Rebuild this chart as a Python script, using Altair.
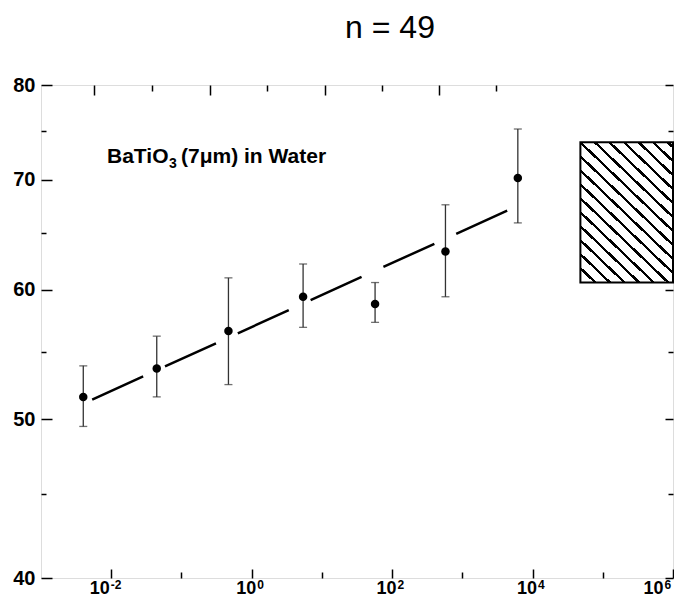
import altair as alt
import pandas as pd

# ---- data ----
x_vals = [0.0040, 0.0445, 0.467, 5.4, 57.2, 575, 6170]
y_vals = [51.6, 53.7, 56.6, 59.4, 58.8, 63.3, 70.2]
y_hi = [53.9, 56.2, 61.0, 62.2, 60.6, 67.6, 75.2]
y_lo = [49.5, 51.6, 52.5, 56.9, 57.3, 59.4, 65.9]

fit_x = [0.00536, 4880]
fit_y = [51.4, 67.2]

box_x = [48000, 1000000]
box_y = [60.6, 73.8]

x_major = [0.01, 1, 100, 10000, 1000000]
x_exponents = ["-2", "0", "2", "4", "6"]
x_minor = [0.1, 10, 1000, 100000]
x_top_major = [0.00566, 0.251, 11.1, 461]
x_top_minor = [0.0377, 1.667, 71.6, 3062]
y_major = [40, 50, 60, 70, 80]
y_minor = [45, 55, 65, 75]

title_text = "n = 49"
label_parts = ["BaTiO", "3", "(7\u03bcm) in Water"]

W, H = 632, 493

pts = pd.DataFrame({"x": x_vals, "y": y_vals, "hi": y_hi, "lo": y_lo})
fit = pd.DataFrame({"x": fit_x, "y": fit_y})
box = pd.DataFrame({"x": [box_x[0]], "x2": [box_x[1]], "y": [box_y[0]], "y2": [box_y[1]]})

xs = alt.Scale(type="log", domain=[1e-3, 1e6], nice=False)
ys = alt.Scale(type="log", domain=[40, 80], nice=False)

FONT = "Liberation Sans"


def tick_axis(orient, offset, values, majors, big, small):
    test = "indexof(" + str([float(v) for v in majors]) + ", datum.value) >= 0"
    return alt.Axis(orient=orient, offset=offset, values=values, labels=False,
                    domain=False, grid=False, title=None, tickColor="black",
                    tickWidth=1.5,
                    tickSize={"condition": {"test": test, "value": big}, "value": small})


def offset_cond(first, last, other):
    return {"condition": [{"test": "datum.value < 0.1", "value": first},
                          {"test": "datum.value > 100000", "value": last}],
            "value": other}


exp_expr = ("datum.value < 0.1 ? '%s' : datum.value < 10 ? '%s' : datum.value < 1000 ? '%s' : "
            "datum.value < 100000 ? '%s' : '%s'") % tuple(x_exponents)

# "10" part of the x labels
x_base_axis = alt.Axis(orient="bottom", values=x_major, labelExpr="'10'", ticks=False,
                       domain=False, grid=False, title=None, labelPadding=1,
                       labelAlign="right", labelOffset=offset_cond(-2, -10, 4),
                       labelFont=FONT, labelFontWeight="bold", labelFontSize=18,
                       labelColor="black")
# exponent part of the x labels
x_exp_axis = alt.Axis(orient="bottom", values=x_major, labelExpr=exp_expr, ticks=False,
                      domain=False, grid=False, title=None, labelPadding=1,
                      labelAlign="left", labelOffset=offset_cond(-1, -9, 5),
                      labelFont=FONT, labelFontWeight="bold", labelFontSize=12,
                      labelColor="black")
y_label_axis = alt.Axis(orient="left", values=y_major, ticks=False, domain=False, grid=False,
                        title=None, labelPadding=6, labelFont=FONT, labelFontWeight="bold",
                        labelFontSize=20, labelColor="black")

# points (carry the labelled axes)
points = alt.Chart(pts).mark_circle(size=72, color="black", opacity=1).encode(
    x=alt.X("x:Q", scale=xs, axis=x_base_axis),
    y=alt.Y("y:Q", scale=ys, axis=y_label_axis),
)

# error bars (carry inward ticks on bottom and left)
bars = alt.Chart(pts).mark_rule(color="#333333", strokeWidth=1.3).encode(
    x=alt.X("x:Q", scale=xs,
            axis=tick_axis("top", -H, x_major + x_minor, x_major, 9, 6)),
    y=alt.Y("lo:Q", scale=ys,
            axis=tick_axis("right", -W, y_major + y_minor, y_major, 11, 5)),
    y2="hi:Q",
)

# caps (carry inward ticks on top and right)
caps = alt.Chart(pts).transform_fold(["hi", "lo"], as_=["k", "cap"]).mark_tick(
    color="#333333", thickness=1.3, size=8, orient="horizontal").encode(
    x=alt.X("x:Q", scale=xs,
            axis=tick_axis("bottom", -H, x_top_major + x_top_minor, x_top_major, 10, 6)),
    y=alt.Y("cap:Q", scale=ys,
            axis=tick_axis("left", -W, y_major + y_minor, y_major, 8, 5)),
)

# dashed fit line (carries the exponent labels)
fit_line = alt.Chart(fit).mark_line(color="black", strokeWidth=2.5, strokeDash=[56, 24],
                                     strokeCap="butt").encode(
    x=alt.X("x:Q", scale=xs, axis=x_exp_axis),
    y=alt.Y("y:Q", scale=ys, axis=None),
)

# hatch fill as a striped linear gradient (45 degree lines)
bw, bh = 87.0, 137.4
a = bw / bh
k = (1 + a) / (1 + a * a)
period, half = 13.7, 1.6
span = bw + bh
stops = []
for i in range(-12, 9):
    uc = i * period
    t0 = (uc - half + bh) / span
    t1 = (uc + half + bh) / span
    if t1 <= 0 or t0 >= 1:
        continue
    t0 = max(t0, 0.0)
    t1 = min(t1, 1.0)
    stops += [alt.GradientStop(offset=t0, color="white"),
              alt.GradientStop(offset=t0, color="black"),
              alt.GradientStop(offset=t1, color="black"),
              alt.GradientStop(offset=t1, color="white")]
hatch = alt.LinearGradient(gradient="linear", stops=stops, x1=0, y1=1, x2=a * k, y2=1 - k)

rect = alt.Chart(box).mark_rect(fill=hatch, stroke="black", strokeWidth=2).encode(
    x=alt.X("x:Q", scale=xs, axis=None), x2="x2:Q",
    y=alt.Y("y:Q", scale=ys, axis=None), y2="y2:Q",
)

title = alt.Chart(pd.DataFrame({"t": [title_text]})).mark_text(
    font=FONT, fontSize=32, color="black", align="center", baseline="alphabetic").encode(
    text="t:N", x=alt.value(349), y=alt.value(-47))


def label_piece(txt, x, y, size):
    return alt.Chart(pd.DataFrame({"t": [txt]})).mark_text(
        font=FONT, fontWeight="bold", fontSize=size, color="black", align="left",
        baseline="alphabetic").encode(text="t:N", x=alt.value(x), y=alt.value(y))


label1 = label_piece(label_parts[0], 66, 78, 21)
label2 = label_piece(label_parts[1], 128, 83, 14)
label3 = label_piece(label_parts[2], 140, 78, 21)

chart = alt.layer(rect, fit_line, bars, caps, points, title, label1, label2, label3).resolve_axis(
    x="independent", y="independent"
).properties(
    width=W, height=H,
    autosize=alt.AutoSizeParams(type="none"),
    padding={"left": 33, "top": 77, "right": 1, "bottom": 20},
).configure_view(stroke="black", strokeWidth=1.6).configure(background="white")

chart.save("out.html", embed_options={"renderer": "svg", "actions": False})
